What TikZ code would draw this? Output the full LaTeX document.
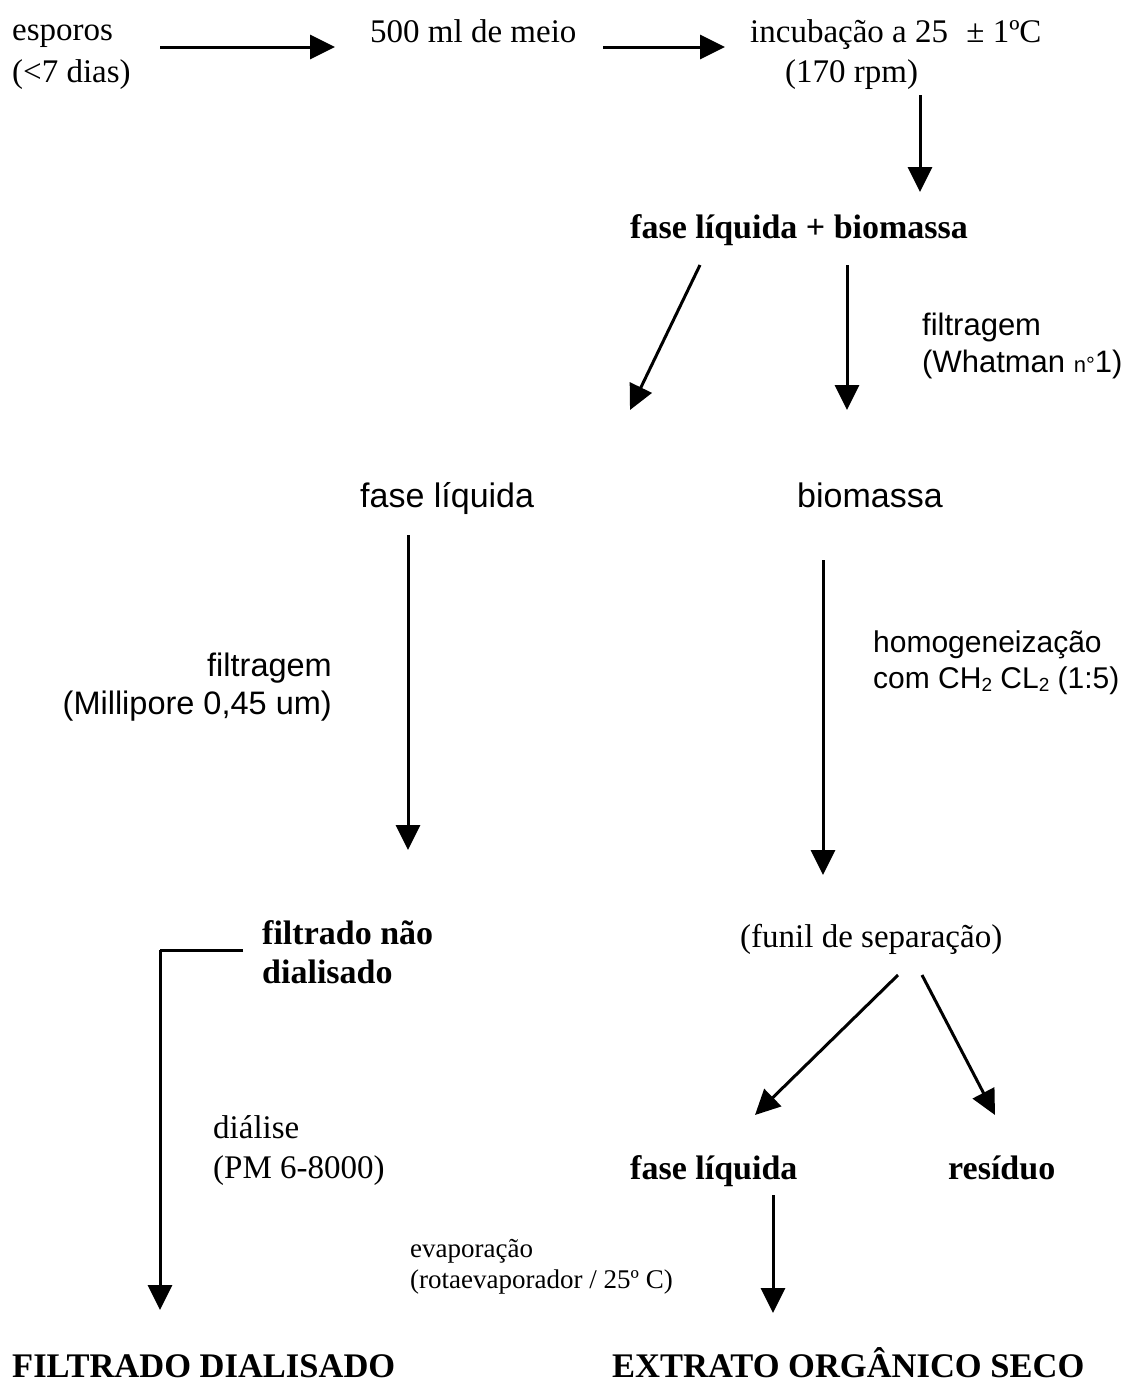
\documentclass[tikz,border=0pt]{standalone}
\usepackage{fontspec}
\setmainfont{Liberation Serif}
\setsansfont{Liberation Sans}
\usetikzlibrary{arrows.meta}
\newcommand{\mysub}[1]{\raisebox{-3pt}{\fontsize{19}{19}\selectfont #1}}
\begin{document}
\begin{tikzpicture}[x=1pt,y=-1pt,
  txt/.style={inner sep=0pt, anchor=base west},
  ser/.style={txt, font=\fontsize{33}{40}\selectfont},
  serb/.style={txt, font=\fontsize{34}{40}\selectfont\bfseries},
  serbig/.style={txt, font=\fontsize{34.5}{40}\selectfont\bfseries},
  sans/.style={txt, font=\sffamily\fontsize{31}{37}\selectfont},
  sansbig/.style={txt, font=\sffamily\fontsize{34}{40}\selectfont},
  small/.style={txt, font=\fontsize{27}{30}\selectfont},
  arr/.style={line width=3pt, -{Triangle[length=25pt,width=24pt]}},
  ln/.style={line width=3pt}]
\useasboundingbox (0,0) rectangle (1132,1387);

% top row
\node[ser] (esp1) at (12,40) {esporos};
\node[ser] (esp2) at (12,82) {(<7 dias)};
\node[ser] (meio) at (370,42) {500 ml de meio};
\node[ser] (inc1) at (750,42) {incubação a 25\hspace{10pt} ± 1ºC};
\node[ser] (inc2) at (785,82) {(170 rpm)};

\coordinate (a1s) at (160,47); \coordinate (a1e) at (335,47);
\coordinate (a2s) at (603,47); \coordinate (a2e) at (725,47);
\coordinate (a3s) at (920,95); \coordinate (a3e) at (920,192);
\draw[arr] (a1s) -- (a1e);
\draw[arr] (a2s) -- (a2e);
\draw[arr] (a3s) -- (a3e);

\node[serb] (flb) at (630,238) {fase líquida + biomassa};
\coordinate (a4s) at (700,265); \coordinate (a4e) at (630,410);
\coordinate (a5s) at (847,265); \coordinate (a5e) at (847,410);
\draw[arr] (a4s) -- (a4e);
\draw[arr] (a5s) -- (a5e);
\node[sans] (filt1) at (922,335) {filtragem};
\node[sans] (filt2) at (922,372) {(Whatman {\fontsize{22}{22}\selectfont n°}1)};

% middle row
\node[sansbig] (fl) at (360,507) {fase líquida};
\node[sansbig] (bio) at (797,507) {biomassa};
\coordinate (a6s) at (408,535); \coordinate (a6e) at (408,850);
\coordinate (a7s) at (823,560); \coordinate (a7e) at (823,875);
\draw[arr] (a6s) -- (a6e);
\draw[arr] (a7s) -- (a7e);
\node[sans, font=\sffamily\fontsize{32.5}{37}\selectfont, anchor=base east] (mil1) at (332,676) {filtragem};
\node[sans, font=\sffamily\fontsize{32.5}{37}\selectfont, anchor=base east] (mil2) at (332,714) {(Millipore 0,45 um)};
\node[sans, font=\sffamily\fontsize{30}{37}\selectfont] (hom1) at (873,652) {homogeneização};
\node[sans, font=\sffamily\fontsize{30}{37}\selectfont] (hom2) at (873,688) {com CH\mysub{2} CL\mysub{2} (1:5)};

% lower
\node[serb] (fnd1) at (262,944) {filtrado não};
\node[serb] (fnd2) at (262,983) {dialisado};
\node[ser] (fun) at (740,947) {(funil de separação)};
\coordinate (e1) at (243,950); \coordinate (e2) at (160,950); \coordinate (e3) at (160,1310);
\draw[ln] (e1) -- (e2);
\draw[arr] (e2) -- (e3);
\node[ser] (dia1) at (213,1138) {diálise};
\node[ser] (dia2) at (213,1178) {(PM 6-8000)};

\coordinate (a8s) at (898,975); \coordinate (a8e) at (755,1115);
\coordinate (a9s) at (922,975); \coordinate (a9e) at (995,1115);
\draw[arr] (a8s) -- (a8e);
\draw[arr] (a9s) -- (a9e);
\node[serb] (fl2) at (630,1179) {fase líquida};
\node[serb] (res) at (948,1179) {resíduo};
\coordinate (a10s) at (773,1195); \coordinate (a10e) at (773,1313);
\draw[arr] (a10s) -- (a10e);
\node[small] (eva1) at (410,1257) {evaporação};
\node[small] (eva2) at (410,1288) {(rotaevaporador / 25º C)};

\node[serbig] (fdi) at (12,1377) {FILTRADO DIALISADO};
\node[serbig] (ext) at (612,1377) {EXTRATO ORGÂNICO SECO};
\end{tikzpicture}
\end{document}
